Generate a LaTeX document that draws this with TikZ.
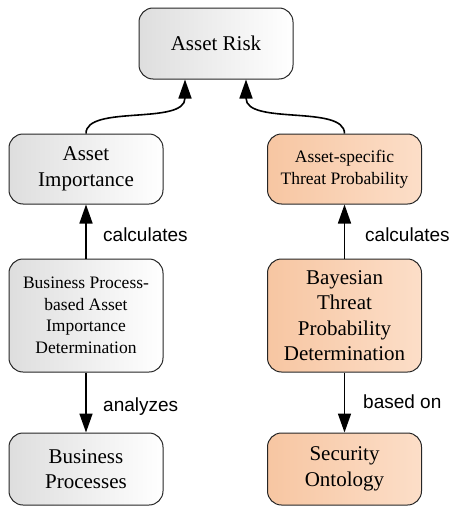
\documentclass[tikz,border=0pt]{standalone}
\usepackage{fontspec}
\setmainfont{Liberation Serif}
\setsansfont{Liberation Sans}
\usetikzlibrary{arrows.meta}

\definecolor{orangeL}{RGB}{247,198,162}
\definecolor{orangeR}{RGB}{252,222,200}

\tikzset{
  box/.style={draw=black!85, line width=1pt, rounded corners=14pt,
    minimum width=154pt, align=center, inner sep=2pt},
  greybox/.style={box, left color=black!13, right color=white},
  orangebox/.style={box, left color=orangeL, right color=orangeR},
  big/.style={font=\fontsize{21}{25.5}\selectfont},
  small/.style={font=\fontsize{17.5}{21.5}\selectfont},
  edgelabel/.style={anchor=base west, inner sep=0pt, font=\sffamily\fontsize{19}{23}\selectfont},
  link/.style={line width=1.6pt, -{Triangle[length=19pt,width=13pt]}}
}

\begin{document}
\begin{tikzpicture}[x=1pt,y=-1pt]
    \useasboundingbox (0,0) rectangle (451,506);

    % Define the positions of the boxes
    \coordinate (riskPos) at (216, 43.5);
    \coordinate (importancePos) at (86, 169);
    \coordinate (threatPos) at (344.5, 169);
    \coordinate (bpaimPos) at (86, 315.5);
    \coordinate (btpdPos) at (344.5, 315.5);
    \coordinate (processPos) at (86, 469);
    \coordinate (ontologyPos) at (344.5, 469);

    % Draw the boxes
    \node[greybox, big, minimum height=71pt] (risk) at (riskPos) {Asset Risk};
    \node[greybox, big, minimum height=70pt] (importance) at (importancePos) {Asset\\Importance};
    \node[orangebox, small, minimum height=70pt] (threat) at (threatPos) {Asset-specific\\Threat Probability};
    \node[greybox, small, minimum height=113pt] (bpaim) at (bpaimPos) {Business Process-\\based Asset\\Importance\\Determination};
    \node[orangebox, big, minimum height=113pt] (btpd) at (btpdPos) {Bayesian\\Threat\\Probability\\Determination};
    \node[greybox, big, minimum height=72pt] (process) at (processPos) {Business\\Processes};
    \node[orangebox, big, minimum height=72pt] (ontology) at (ontologyPos) {Security\\Ontology};

    % Draw the arrows
    \draw[link] (importance.north) .. controls +(0,-29) and +(0,46) .. ([xshift=-31pt]risk.south);
    \draw[link] (threat.north) .. controls +(0,-29) and +(0,46) .. ([xshift=30pt]risk.south);
    \draw[link] (bpaim.north) -- (importance.south);
    \draw[link] (btpd.north) -- (threat.south);
    \draw[link] (bpaim.south) -- (process.north);
    \draw[link] (btpd.south) -- (ontology.north);

    % Draw the labels
    \node[edgelabel] (calcL) at (103, 241) {calculates};
    \node[edgelabel] (calcR) at (365, 241) {calculates};
    \node[edgelabel] (analyzes) at (103, 411) {analyzes};
    \node[edgelabel] (basedon) at (363, 408) {based on};
\end{tikzpicture}
\end{document}
